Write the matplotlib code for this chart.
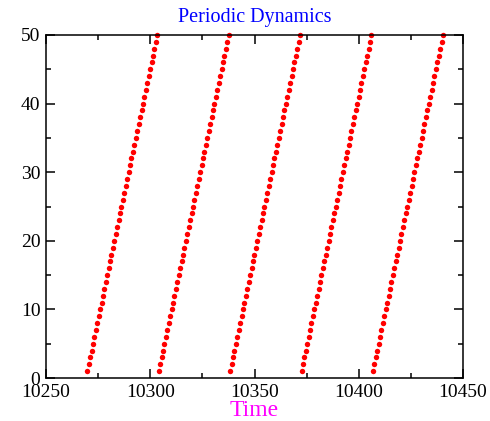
import matplotlib
matplotlib.use("Agg")
import matplotlib.pyplot as plt
from matplotlib.ticker import MultipleLocator

# state index (1..50) for each pass through the cycle
level = [1, 2, 3, 4, 5, 6, 7, 8, 9, 10,
         11, 12, 13, 14, 15, 16, 17, 18, 19, 20,
         21, 22, 23, 24, 25, 26, 27, 28, 29, 30,
         31, 32, 33, 34, 35, 36, 37, 38, 39, 40,
         41, 42, 43, 44, 45, 46, 47, 48, 49, 50]

# time stamps of each pass
t1 = [10269.8, 10270.5, 10271.2, 10271.9, 10272.5, 10273.2, 10273.9, 10274.6, 10275.3, 10276.0,
      10276.7, 10277.3, 10278.0, 10278.7, 10279.4, 10280.1, 10280.8, 10281.4, 10282.1, 10282.8,
      10283.5, 10284.2, 10284.9, 10285.6, 10286.2, 10286.9, 10287.6, 10288.3, 10289.0, 10289.7,
      10290.4, 10291.0, 10291.7, 10292.4, 10293.1, 10293.8, 10294.5, 10295.1, 10295.8, 10296.5,
      10297.2, 10297.9, 10298.6, 10299.3, 10299.9, 10300.6, 10301.3, 10302.0, 10302.7, 10303.4]
t2 = [10304.1, 10304.7, 10305.4, 10306.1, 10306.8, 10307.5, 10308.2, 10308.8, 10309.5, 10310.2,
      10310.9, 10311.6, 10312.3, 10313.0, 10313.6, 10314.3, 10315.0, 10315.7, 10316.4, 10317.1,
      10317.8, 10318.4, 10319.1, 10319.8, 10320.5, 10321.2, 10321.9, 10322.5, 10323.2, 10323.9,
      10324.6, 10325.3, 10326.0, 10326.7, 10327.3, 10328.0, 10328.7, 10329.4, 10330.1, 10330.8,
      10331.5, 10332.1, 10332.8, 10333.5, 10334.2, 10334.9, 10335.6, 10336.2, 10336.9, 10337.6]
t3 = [10338.3, 10339.0, 10339.7, 10340.4, 10341.0, 10341.7, 10342.4, 10343.1, 10343.8, 10344.5,
      10345.2, 10345.8, 10346.5, 10347.2, 10347.9, 10348.6, 10349.3, 10349.9, 10350.6, 10351.3,
      10352.0, 10352.7, 10353.4, 10354.1, 10354.7, 10355.4, 10356.1, 10356.8, 10357.5, 10358.2,
      10358.9, 10359.5, 10360.2, 10360.9, 10361.6, 10362.3, 10363.0, 10363.6, 10364.3, 10365.0,
      10365.7, 10366.4, 10367.1, 10367.8, 10368.4, 10369.1, 10369.8, 10370.5, 10371.2, 10371.9]
t4 = [10372.6, 10373.2, 10373.9, 10374.6, 10375.3, 10376.0, 10376.7, 10377.3, 10378.0, 10378.7,
      10379.4, 10380.1, 10380.8, 10381.5, 10382.1, 10382.8, 10383.5, 10384.2, 10384.9, 10385.6,
      10386.3, 10386.9, 10387.6, 10388.3, 10389.0, 10389.7, 10390.4, 10391.0, 10391.7, 10392.4,
      10393.1, 10393.8, 10394.5, 10395.2, 10395.8, 10396.5, 10397.2, 10397.9, 10398.6, 10399.3,
      10400.0, 10400.6, 10401.3, 10402.0, 10402.7, 10403.4, 10404.1, 10404.7, 10405.4, 10406.1]
t5 = [10406.8, 10407.5, 10408.2, 10408.9, 10409.5, 10410.2, 10410.9, 10411.6, 10412.3, 10413.0,
      10413.7, 10414.3, 10415.0, 10415.7, 10416.4, 10417.1, 10417.8, 10418.4, 10419.1, 10419.8,
      10420.5, 10421.2, 10421.9, 10422.6, 10423.2, 10423.9, 10424.6, 10425.3, 10426.0, 10426.7,
      10427.4, 10428.0, 10428.7, 10429.4, 10430.1, 10430.8, 10431.5, 10432.1, 10432.8, 10433.5,
      10434.2, 10434.9, 10435.6, 10436.3, 10436.9, 10437.6, 10438.3, 10439.0, 10439.7, 10440.4]

plt.rcParams['font.family'] = ['Liberation Serif', 'DejaVu Serif']

fig = plt.figure(figsize=(4.9, 4.21), dpi=100)
ax = fig.add_axes([0.0939, 0.1021, 0.851, 0.8148])

for t in (t1, t2, t3, t4, t5):
    ax.plot(t, level, 'o', color='red', markersize=3.9, markeredgewidth=0, clip_on=False)

ax.set_xlim(10250, 10450)
ax.set_ylim(0, 50)
ax.xaxis.set_major_locator(MultipleLocator(50))
ax.xaxis.set_minor_locator(MultipleLocator(25))
ax.yaxis.set_major_locator(MultipleLocator(10))
ax.yaxis.set_minor_locator(MultipleLocator(5))
ax.tick_params(which='both', direction='in', top=True, right=True, width=1.1, labelsize=14)
ax.tick_params(which='major', length=6.5, pad=4)
ax.tick_params(which='minor', length=3.5)
for s in ax.spines.values():
    s.set_linewidth(1.1)

ax.set_title("Periodic Dynamics", color='blue', fontsize=14.5, pad=9)
ax.set_xlabel("Time", color='magenta', fontsize=17, labelpad=-0.5)

plt.savefig("out.png", dpi=100)
